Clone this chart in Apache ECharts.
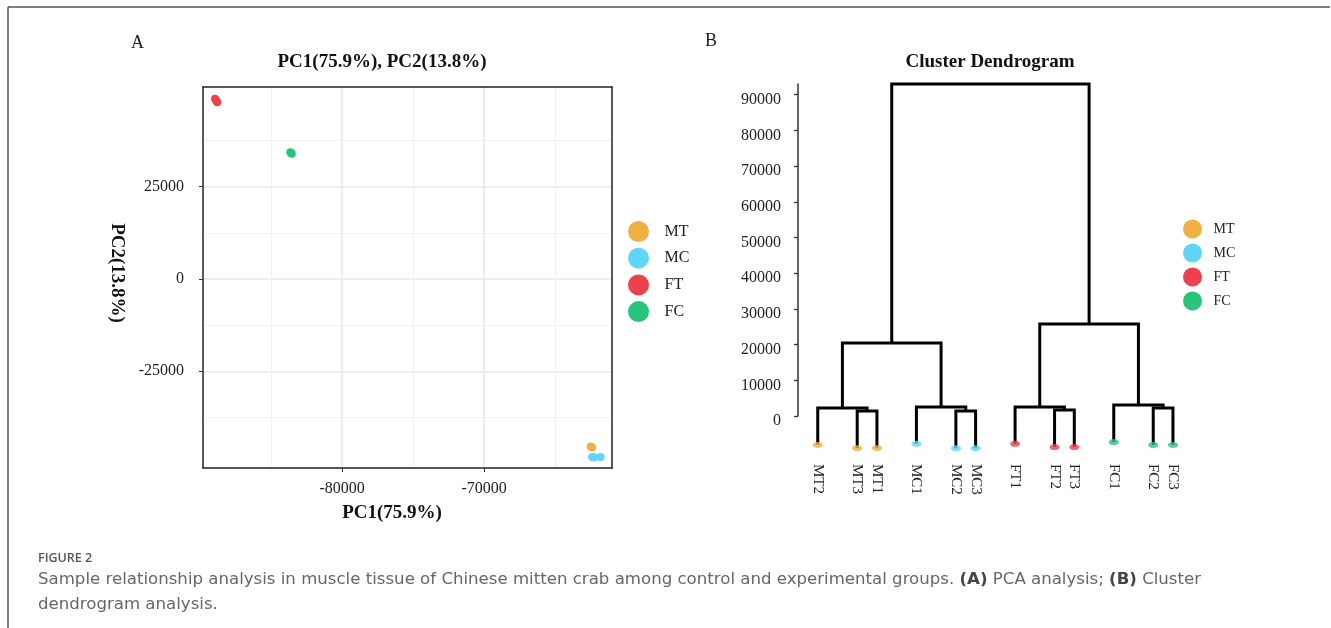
<!DOCTYPE html>
<html><head><meta charset="utf-8">
<script src="https://cdn.jsdelivr.net/npm/echarts@6/dist/echarts.min.js"></script>
<style>html,body{margin:0;padding:0;background:#fff}#c{width:1331px;height:628px}</style>
</head><body><div id="c"></div>
<script>
// ---------- data ----------
const groups = ['MT', 'MC', 'FT', 'FC'];
const groupColors = ['#F0B042', '#5FD6F8', '#EF404D', '#27C47B'];

// PCA scores [PC1, PC2]
const pcaMT = [[-62450, -45500], [-62500, -45350], [-62400, -45650]];
const pcaMC = [[-62400, -48200], [-61800, -48200], [-62250, -48300]];
const pcaFT = [[-88950, 48800], [-88800, 47900], [-88880, 48350]];
const pcaFC = [[-83650, 34300], [-83550, 33900], [-83600, 34100]];
const pcaXTicks = [-80000, -70000];
const pcaXMinor = [-85000, -75000, -65000];
const pcaYTicks = [-25000, 0, 25000];
const pcaYMinor = [-37500, -12500, 12500, 37500];

// Dendrogram
const leafNames = ['MT2', 'MT3', 'MT1', 'MC1', 'MC2', 'MC3', 'FT1', 'FT2', 'FT3', 'FC1', 'FC2', 'FC3'];
const leafPos = [1, 3, 4, 6, 8, 9, 11, 13, 14, 16, 18, 19];
const leafTip = [-8100, -9000, -9000, -7800, -9000, -9000, -7800, -8700, -8700, -7300, -8100, -8100];
// merge table (negative = leaf number, positive = earlier merge number)
const mergeLeft = [-2, -1, -5, -4, 2, -8, -7, -11, -10, 7, 5];
const mergeRight = [-3, 1, -6, 3, 4, -9, 6, -12, 8, 9, 10];
const mergeHeight = [1400, 2240, 1400, 2520, 20450, 1680, 2520, 2240, 3080, 25770, 93000];
const dendroYTicks = [0, 10000, 20000, 30000, 40000, 50000, 60000, 70000, 80000, 90000];

// ---------- layout helpers ----------
const SERIF = "'Liberation Serif', 'Times New Roman', serif";
const SANS = "'DejaVu Sans', 'Open Sans', sans-serif";
const mergeX = [];
function refX(r) { return r < 0 ? leafPos[-r - 1] : mergeX[r - 1]; }
function refY(r) { return r < 0 ? leafTip[-r - 1] : mergeHeight[r - 1]; }
for (let i = 0; i < mergeHeight.length; i++) {
  mergeX.push((refX(mergeLeft[i]) + refX(mergeRight[i])) / 2);
}
function groupColor(name) { return groupColors[groups.indexOf(name.slice(0, 2))]; }
const plain = v => String(v);

const pcaData = { MT: pcaMT, MC: pcaMC, FT: pcaFT, FC: pcaFC };

const chart = echarts.init(document.getElementById('c'), null, { renderer: 'canvas' });

const majorGrid = { color: '#e8e8e8', width: 1.6 };
const minorGrid = { color: '#f1f1f1', width: 1 };
const XMIN = -89800, XMAX = -61000, YMIN = -51200, YMAX = 52000;

const option = {
  animation: false,
  backgroundColor: '#fff',
  grid: [
    { left: 203, top: 87, width: 409, height: 381 },
    { left: 798, top: 84, width: 394.7, height: 332 }
  ],
  xAxis: [
    { gridIndex: 0, type: 'value', min: XMIN, max: XMAX, position: 'bottom',
      axisLine: { show: false, onZero: false },
      axisTick: { show: false, customValues: pcaXMinor }, axisLabel: { show: false },
      splitLine: { show: true, lineStyle: minorGrid } },
    { gridIndex: 0, type: 'value', min: XMIN, max: XMAX, position: 'bottom',
      axisLine: { show: false, onZero: false },
      axisTick: { show: true, length: 4, customValues: pcaXTicks, lineStyle: { color: '#333' } },
      axisLabel: { show: true, customValues: pcaXTicks, formatter: plain, margin: 13, fontFamily: SERIF, fontSize: 16, color: '#222' },
      splitLine: { show: true, lineStyle: majorGrid } },
    { gridIndex: 0, type: 'value', min: XMIN, max: XMAX, position: 'top',
      axisLine: { show: true, onZero: false, lineStyle: { color: '#222', width: 1.5 } },
      axisTick: { show: false }, axisLabel: { show: false }, splitLine: { show: false } },
    { gridIndex: 0, type: 'value', min: XMIN, max: XMAX, position: 'bottom',
      axisLine: { show: true, onZero: false, lineStyle: { color: '#222', width: 1.5 } },
      axisTick: { show: false }, axisLabel: { show: false }, splitLine: { show: false } },
    { gridIndex: 1, type: 'value', min: 0, max: 20, position: 'bottom',
      axisLine: { show: false, onZero: false }, axisTick: { show: false }, splitLine: { show: false },
      axisLabel: { show: true, customValues: leafPos, rotate: -90, margin: 48,
        fontFamily: SERIF, fontSize: 15, color: '#222',
        formatter: v => leafNames[leafPos.indexOf(v)] || '' } }
  ],
  yAxis: [
    { gridIndex: 0, type: 'value', min: YMIN, max: YMAX, position: 'left',
      axisLine: { show: false, onZero: false },
      axisTick: { show: false, customValues: pcaYMinor }, axisLabel: { show: false },
      splitLine: { show: true, lineStyle: minorGrid } },
    { gridIndex: 0, type: 'value', min: YMIN, max: YMAX, position: 'left',
      axisLine: { show: false, onZero: false },
      axisTick: { show: true, length: 4, customValues: pcaYTicks, lineStyle: { color: '#333' } },
      axisLabel: { show: true, customValues: pcaYTicks, formatter: plain, margin: 19, fontFamily: SERIF, fontSize: 16, color: '#222' },
      splitLine: { show: true, lineStyle: majorGrid } },
    { gridIndex: 0, type: 'value', min: YMIN, max: YMAX, position: 'right',
      axisLine: { show: true, onZero: false, lineStyle: { color: '#222', width: 1.5 } },
      axisTick: { show: false }, axisLabel: { show: false }, splitLine: { show: false } },
    { gridIndex: 0, type: 'value', min: YMIN, max: YMAX, position: 'left',
      axisLine: { show: true, onZero: false, lineStyle: { color: '#222', width: 1.5 } },
      axisTick: { show: false }, axisLabel: { show: false }, splitLine: { show: false } },
    { gridIndex: 1, type: 'value', min: 0, max: 93000, position: 'left',
      axisLine: { show: true, onZero: false, lineStyle: { color: '#333', width: 1.5 } },
      axisTick: { show: true, length: 4, customValues: dendroYTicks, lineStyle: { color: '#333', width: 1.3 } },
      axisLabel: { show: true, customValues: dendroYTicks, formatter: plain, margin: 17, fontFamily: SERIF, fontSize: 16, color: '#222',
        verticalAlign: 'top', lineHeight: 10 },
      splitLine: { show: false } }
  ],
  legend: [
    { data: groups, orient: 'vertical', left: 623, top: 216, itemWidth: 42, itemHeight: 21, itemGap: 5.7,
      icon: 'circle', selectedMode: false,
      textStyle: { fontFamily: SERIF, fontSize: 16, color: '#222', padding: [4, 0, 0, 0] } },
    { data: groups, orient: 'vertical', left: 1178, top: 214.5, itemWidth: 32, itemHeight: 19, itemGap: 5,
      icon: 'circle', selectedMode: false,
      textStyle: { fontFamily: SERIF, fontSize: 14, color: '#222', padding: [4, 0, 0, 0] } }
  ],
  series: groups.map((g, i) => ({
    name: g, type: 'scatter', xAxisIndex: 0, yAxisIndex: 0,
    symbol: 'circle', symbolSize: 8, data: pcaData[g],
    itemStyle: { color: groupColors[i], opacity: 1 }, z: 5
  })).concat([
    { name: 'dendrogram', type: 'custom', xAxisIndex: 4, yAxisIndex: 4, clip: false, z: 3,
      data: mergeHeight.map((h, i) => [mergeX[i], h]),
      encode: { x: 0, y: 1 },
      renderItem: function (params, api) {
        const i = params.dataIndex;
        const a = mergeLeft[i], b = mergeRight[i], h = mergeHeight[i];
        const pts = [
          api.coord([refX(a), refY(a)]),
          api.coord([refX(a), h]),
          api.coord([refX(b), h]),
          api.coord([refX(b), refY(b)])
        ];
        return { type: 'polyline', shape: { points: pts },
          style: { stroke: '#000', lineWidth: 3, fill: null, lineJoin: 'miter', lineCap: 'butt' } };
      } },
    { name: 'leaves', type: 'scatter', xAxisIndex: 4, yAxisIndex: 4, clip: false, z: 6,
      symbol: 'circle', symbolSize: [10, 6],
      data: leafPos.map((p, i) => ({ value: [p, leafTip[i]], itemStyle: { color: groupColor(leafNames[i]) } })) }
  ]),
  graphic: [
    { type: 'line', shape: { x1: 8, y1: 7, x2: 1330, y2: 7 }, style: { stroke: '#555', lineWidth: 1.5 } },
    { type: 'line', shape: { x1: 8, y1: 7, x2: 8, y2: 628 }, style: { stroke: '#555', lineWidth: 1.5 } },
    { type: 'text', x: 131, y: 43, style: { text: 'A', font: '18px ' + SERIF, fill: '#222', verticalAlign: 'middle' } },
    { type: 'text', x: 705, y: 41, style: { text: 'B', font: '18px ' + SERIF, fill: '#222', verticalAlign: 'middle' } },
    { type: 'text', x: 382, y: 62, style: { text: 'PC1(75.9%), PC2(13.8%)', font: 'bold 19px ' + SERIF, fill: '#111', align: 'center', verticalAlign: 'middle' } },
    { type: 'text', x: 392, y: 513, style: { text: 'PC1(75.9%)', font: 'bold 19px ' + SERIF, fill: '#111', align: 'center', verticalAlign: 'middle' } },
    { type: 'text', x: 117, y: 273, rotation: -Math.PI / 2, style: { text: 'PC2(13.8%)', font: 'bold 19px ' + SERIF, fill: '#111', align: 'center', verticalAlign: 'middle' } },
    { type: 'text', x: 990, y: 62, style: { text: 'Cluster Dendrogram', font: 'bold 19px ' + SERIF, fill: '#111', align: 'center', verticalAlign: 'middle' } },
    { type: 'text', x: 38, y: 558, style: { text: 'FIGURE 2', font: '600 12.5px ' + "'Open Sans', sans-serif", fill: '#555', verticalAlign: 'middle' } },
    { type: 'text', x: 38, y: 580, style: {
        text: 'Sample relationship analysis in muscle tissue of Chinese mitten crab among control and experimental groups. {b|(A)} PCA analysis; {b|(B)} Cluster',
        font: '16.6px ' + SANS, fill: '#666', verticalAlign: 'middle',
        rich: { b: { fontWeight: 'bold', fontFamily: SANS, fontSize: 16.6, fill: '#444' } } } },
    { type: 'text', x: 38, y: 605, style: { text: 'dendrogram analysis.', font: '16.6px ' + SANS, fill: '#666', verticalAlign: 'middle' } }
  ]
};
chart.setOption(option);
</script>
</body></html>
